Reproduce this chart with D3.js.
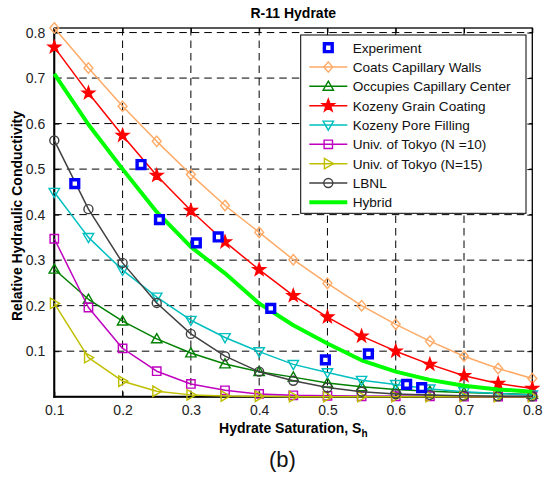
<!DOCTYPE html>
<html><head><meta charset="utf-8">
<script src="https://cdn.jsdelivr.net/npm/d3@7"></script>
<style>body{margin:0;background:#fff}svg{display:block}text{font-family:Arial,"Liberation Sans",Helvetica,sans-serif}</style>
</head><body><svg id="c" width="544" height="477"></svg>
<script>
const sat = [0.10,0.15,0.20,0.25,0.30,0.35,0.40,0.45,0.50,0.55,0.60,0.65,0.70,0.75,0.80];
const coats = [0.810,0.722,0.638,0.561,0.488,0.420,0.361,0.301,0.249,0.200,0.159,0.122,0.089,0.062,0.040];
const occupies = [0.280,0.214,0.166,0.127,0.096,0.072,0.055,0.043,0.030,0.022,0.016,0.012,0.009,0.007,0.005];
const kozenyGrain = [0.768,0.667,0.574,0.486,0.409,0.340,0.279,0.222,0.175,0.133,0.100,0.071,0.046,0.029,0.018];
const kozenyPore = [0.449,0.350,0.278,0.219,0.168,0.130,0.099,0.071,0.053,0.036,0.027,0.017,0.011,0.007,0.004];
const tokyo10 = [0.347,0.196,0.106,0.056,0.028,0.014,0.006,0.003,0.002,0.001,0.001,0.001,0.000,0.000,0.000];
const tokyo15 = [0.205,0.086,0.034,0.012,0.004,0.0015,0.001,0.000,0.000,0.000,0.000,0.000,0.000,0.000,0.000];
const lbnl = [0.563,0.412,0.294,0.206,0.138,0.089,0.055,0.035,0.020,0.011,0.006,0.004,0.002,0.001,0.001];
const hybrid = [0.709,0.598,0.500,0.406,0.329,0.271,0.205,0.157,0.117,0.080,0.055,0.037,0.024,0.016,0.011];
const expX = [0.130,0.227,0.254,0.308,0.340,0.417,0.497,0.560,0.616,0.638];
const expY = [0.468,0.510,0.389,0.338,0.351,0.194,0.081,0.094,0.027,0.020];
const xTicks = [0.1,0.2,0.3,0.4,0.5,0.6,0.7,0.8];
const yTicks = [0.1,0.2,0.3,0.4,0.5,0.6,0.7,0.8];
const seriesNames = ["Experiment","Coats Capillary Walls","Occupies Capillary Center","Kozeny Grain Coating","Kozeny Pore Filling","Univ. of Tokyo (N =10)","Univ. of Tokyo (N=15)","LBNL","Hybrid"];

const svg = d3.select("#c");
const L=54.3, R=532.3, T=28, B=396.7;
const x = d3.scaleLinear().domain([0.1,0.8]).range([L,R]);
const y = d3.scaleLinear().domain([0,0.81]).range([B,T]);

const mk = {
  diamond: s=>`M0,${-s}L${s*0.85},0L0,${s}L${-s*0.85},0Z`,
  triUp: s=>`M0,${-s}L${s},${s*0.75}L${-s},${s*0.75}Z`,
  triDown: s=>`M0,${s}L${s},${-s*0.75}L${-s},${-s*0.75}Z`,
  triRight: s=>`M${s},0L${-s*0.75},${-s}L${-s*0.75},${s}Z`,
  square: s=>`M${-s},${-s}H${s}V${s}H${-s}Z`,
  circle: s=>`M${s},0A${s},${s} 0 1,1 ${-s},0A${s},${s} 0 1,1 ${s},0Z`,
  star: s=>{let p=[];for(let i=0;i<10;i++){const r=i%2?s*0.4:s;const a=-Math.PI/2+i*Math.PI/5;p.push([r*Math.cos(a),r*Math.sin(a)]);}return "M"+p.map(d=>d[0].toFixed(2)+","+d[1].toFixed(2)).join("L")+"Z";}
};

const series = [
  {name:seriesNames[1], vals:coats, color:"#FFAA66", marker:"diamond", ms:5.2, fill:"none", w:1.5},
  {name:seriesNames[2], vals:occupies, color:"#008000", marker:"triUp", ms:5.2, fill:"none", w:1.5},
  {name:seriesNames[3], vals:kozenyGrain, color:"#FF0000", marker:"star", ms:6.5, fill:"#FF0000", w:1.5},
  {name:seriesNames[4], vals:kozenyPore, color:"#00BFBF", marker:"triDown", ms:5.2, fill:"none", w:1.5},
  {name:seriesNames[5], vals:tokyo10, color:"#BF00BF", marker:"square", ms:4.2, fill:"none", w:1.5},
  {name:seriesNames[6], vals:tokyo15, color:"#BFBF00", marker:"triRight", ms:5.2, fill:"none", w:1.5},
  {name:seriesNames[7], vals:lbnl, color:"#404040", marker:"circle", ms:4.5, fill:"none", w:1.5},
  {name:seriesNames[8], vals:hybrid, color:"#00FF00", marker:null, w:4}
];

const g = svg.append("g");
g.selectAll(".vg").data(xTicks.slice(1,-1)).enter().append("line")
  .attr("x1",d=>x(d)).attr("x2",d=>x(d)).attr("y1",T).attr("y2",B)
  .attr("stroke","#000").attr("stroke-width",1).attr("stroke-dasharray","7.5,5");
g.selectAll(".hg").data(yTicks).enter().append("line")
  .attr("x1",L).attr("x2",R).attr("y1",d=>y(d)).attr("y2",d=>y(d))
  .attr("stroke","#000").attr("stroke-width",1).attr("stroke-dasharray","7.5,5");

const xAxis = svg.append("g").attr("transform",`translate(0,${B})`)
  .call(d3.axisBottom(x).tickValues(xTicks).tickFormat(d3.format(".1f")).tickSizeInner(-5).tickSizeOuter(0).tickPadding(8));
const yAxis = svg.append("g").attr("transform",`translate(${L},0)`)
  .call(d3.axisLeft(y).tickValues(yTicks).tickFormat(d3.format(".1f")).tickSizeInner(-5).tickSizeOuter(0).tickPadding(9));
svg.append("g").attr("transform",`translate(0,${T})`)
  .call(d3.axisTop(x).tickValues(xTicks).tickFormat("").tickSizeInner(-5).tickSizeOuter(0));
svg.append("g").attr("transform",`translate(${R},0)`)
  .call(d3.axisRight(y).tickValues(yTicks).tickFormat("").tickSizeInner(-5).tickSizeOuter(0));
svg.selectAll(".domain").remove();
svg.selectAll(".tick line").attr("stroke","#000");
[xAxis,yAxis].forEach(a=>a.selectAll("text").attr("font-size","14px").attr("fill","#222"));
svg.append("rect").attr("x",L).attr("y",T).attr("width",R-L).attr("height",B-T)
  .attr("fill","none").attr("stroke","#000").attr("stroke-width",1.3);
svg.append("line").attr("x1",L).attr("x2",L).attr("y1",T).attr("y2",B+1).attr("stroke","#000").attr("stroke-width",2);
svg.append("line").attr("x1",L-1).attr("x2",R).attr("y1",B).attr("y2",B).attr("stroke","#000").attr("stroke-width",2);

const line = d3.line().x((d,i)=>x(sat[i])).y(d=>y(d));
const plot = svg.append("g");
series.forEach(s=>{
  plot.append("path").datum(s.vals).attr("d",line).attr("fill","none")
    .attr("stroke",s.color).attr("stroke-width",s.w).attr("stroke-linejoin","round");
  if(s.marker){
    plot.selectAll(null).data(s.vals).enter().append("path")
      .attr("transform",(d,i)=>`translate(${x(sat[i])},${y(d)})`)
      .attr("d",mk[s.marker](s.ms)).attr("fill",s.fill).attr("stroke",s.color).attr("stroke-width",1.4);
  }
});
plot.selectAll(".exp").data(expX).enter().append("path")
  .attr("transform",(d,i)=>`translate(${x(d)},${y(expY[i])})`)
  .attr("d",mk.square(3.9)).attr("fill","#fff").attr("stroke","#0000FF").attr("stroke-width",3.4);

const lg = svg.append("g");
lg.append("rect").attr("x",300.7).attr("y",35).attr("width",225.3).attr("height",178.3)
  .attr("fill","#fff").attr("stroke","#000").attr("stroke-width",1);
const rowY = i=>47.7+i*19.33;
const items = [{name:seriesNames[0], exp:true}].concat(series);
items.forEach((s,i)=>{
  const yy = rowY(i);
  if(s.exp){
    lg.append("path").attr("transform",`translate(328.3,${yy})`).attr("d",mk.square(3.9))
      .attr("fill","#fff").attr("stroke","#0000FF").attr("stroke-width",3.4);
  } else {
    lg.append("line").attr("x1",309.3).attr("x2",347.3).attr("y1",yy).attr("y2",yy)
      .attr("stroke",s.color).attr("stroke-width",s.w);
    if(s.marker) lg.append("path").attr("transform",`translate(328.3,${yy})`).attr("d",mk[s.marker](s.ms))
      .attr("fill",s.fill).attr("stroke",s.color).attr("stroke-width",1.4);
  }
  lg.append("text").attr("x",352.7).attr("y",yy+5).attr("font-size","13.6px").attr("fill","#111").text(s.name);
});

svg.append("text").attr("x",(L+R)/2).attr("y",18).attr("text-anchor","middle")
  .attr("font-size","14px").attr("font-weight","bold").text("R-11 Hydrate");
const xl = svg.append("text").attr("x",(L+R)/2).attr("y",433).attr("text-anchor","middle")
  .attr("font-size","14px").attr("font-weight","bold");
xl.append("tspan").text("Hydrate Saturation, S");
xl.append("tspan").attr("dy",4).attr("font-size","10px").text("h");
svg.append("text").attr("transform","translate(22,216) rotate(-90)").attr("text-anchor","middle")
  .attr("font-size","14px").attr("font-weight","bold").text("Relative Hydraulic Conductivity");
svg.append("text").attr("x",282.5).attr("y",467).attr("text-anchor","middle")
  .attr("font-size","22px").attr("fill","#111").text("(b)");
</script></body></html>
